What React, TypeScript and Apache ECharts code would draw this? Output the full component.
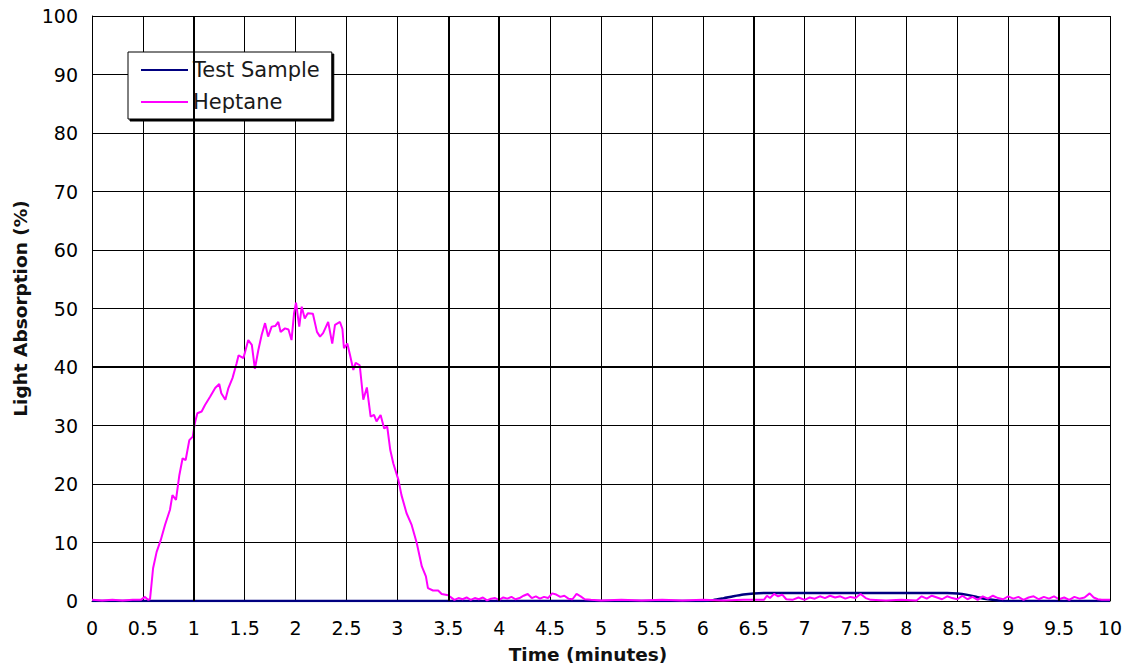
import React, { useEffect, useRef } from "react";
import * as echarts from "echarts";

const xTicks = ["0", "0.5", "1", "1.5", "2", "2.5", "3", "3.5", "4", "4.5", "5", "5.5", "6", "6.5", "7", "7.5", "8", "8.5", "9", "9.5", "10"];

const testSample: [number, number][] = [
  [0, 0], [1, 0], [2, 0], [3, 0], [4, 0], [5, 0], [6.0, 0], [6.1, 0.15], [6.2, 0.45], [6.3, 0.8],
  [6.4, 1.1], [6.5, 1.28], [6.6, 1.35], [7.5, 1.35], [8.4, 1.35], [8.5, 1.3], [8.6, 1.05],
  [8.7, 0.65], [8.8, 0.3], [8.9, 0.1], [9.0, 0], [10, 0],
];

const heptane: [number, number][] = [
  [0, 0.2], [0.1, 0.1], [0.2, 0.2], [0.3, 0.1], [0.4, 0.2], [0.48, 0.2], [0.52, 0.7], [0.55, 0.2], [0.57, 0.3],
  [0.6, 5.6], [0.635, 8.4], [0.675, 10.4], [0.717, 13], [0.766, 15.6], [0.79, 18.1], [0.825, 17.3],
  [0.858, 21.5], [0.89, 24.4], [0.92, 24.1], [0.956, 27.5], [0.99, 28.1], [1.01, 30.4], [1.035, 32.1],
  [1.077, 32.4], [1.11, 33.5], [1.16, 34.9], [1.21, 36.4], [1.25, 37.1], [1.27, 35.5], [1.31, 34.4],
  [1.34, 36.4], [1.38, 38.1], [1.42, 40.6], [1.44, 42.0], [1.487, 41.5], [1.535, 44.6], [1.57, 43.8],
  [1.6, 39.7], [1.634, 42.9], [1.667, 45.5], [1.7, 47.5], [1.73, 45.2], [1.765, 46.9], [1.8, 47.0],
  [1.83, 47.7], [1.853, 46], [1.896, 46.6], [1.93, 46.4], [1.96, 44.6], [1.985, 49.2], [2.004, 51.0],
  [2.036, 46.9], [2.06, 50.3], [2.09, 48.3], [2.12, 49.2], [2.17, 49.1], [2.21, 46], [2.24, 45.2],
  [2.27, 45.8], [2.32, 47.7], [2.36, 44], [2.387, 47.2], [2.436, 47.7], [2.46, 46.5], [2.475, 43.2],
  [2.508, 44], [2.535, 42], [2.567, 39.5], [2.59, 40.7], [2.63, 40.3], [2.665, 34.4], [2.7, 36.5],
  [2.737, 31.5], [2.77, 31.8], [2.795, 30.7], [2.835, 31.8], [2.87, 29.5], [2.9, 29.8], [2.93, 25.8],
  [2.96, 23.5], [3.01, 20.7], [3.04, 18.1], [3.09, 15], [3.14, 13], [3.19, 9.9], [3.24, 5.9],
  [3.28, 4.2], [3.3, 2.2], [3.35, 1.8], [3.4, 1.8], [3.435, 1.2], [3.5, 1.0],
  [3.52, 0.7], [3.56, 0.2], [3.6, 0.5], [3.64, 0.3], [3.68, 0.6], [3.72, 0.2], [3.76, 0.5], [3.8, 0.3],
  [3.84, 0.6], [3.88, 0.1], [3.92, 0.4], [3.96, 0.5], [4.0, 0.2], [4.04, 0.6], [4.08, 0.4], [4.12, 0.7],
  [4.16, 0.3], [4.2, 0.5], [4.24, 0.9], [4.28, 1.2], [4.32, 0.5], [4.36, 0.8], [4.4, 0.4], [4.44, 0.7],
  [4.48, 0.5], [4.52, 1.3], [4.56, 1.1], [4.6, 0.7], [4.64, 0.9], [4.68, 0.4], [4.72, 0.3], [4.76, 1.2],
  [4.8, 0.8], [4.84, 0.3], [4.9, 0.2], [5.0, 0.1], [5.2, 0.2], [5.4, 0.1], [5.6, 0.2], [5.8, 0.1],
  [6.0, 0.2], [6.2, 0.1], [6.4, 0.2], [6.6, 0.2], [6.63, 0.9], [6.66, 0.5], [6.7, 1.2], [6.74, 0.8],
  [6.78, 1.1], [6.82, 0.3], [6.88, 0.2], [6.94, 0.6], [7.0, 0.2], [7.05, 0.6], [7.1, 0.4], [7.15, 0.8],
  [7.2, 0.5], [7.25, 0.9], [7.3, 0.6], [7.35, 0.8], [7.4, 0.4], [7.45, 0.7], [7.5, 0.5], [7.55, 1.2],
  [7.6, 0.5], [7.65, 0.2], [7.8, 0.1], [7.95, 0.2], [8.1, 0.1], [8.15, 0.8], [8.2, 0.4], [8.25, 0.9],
  [8.3, 0.6], [8.35, 0.3], [8.4, 0.8], [8.45, 0.5], [8.5, 0.3], [8.55, 0.9], [8.6, 0.3], [8.65, 0.7],
  [8.7, 0.2], [8.75, 0.8], [8.8, 0.4], [8.85, 0.9], [8.9, 0.5], [8.95, 0.3], [9.0, 0.8], [9.05, 0.4],
  [9.1, 0.7], [9.15, 0.2], [9.2, 0.6], [9.25, 0.8], [9.3, 0.3], [9.35, 0.7], [9.4, 0.4], [9.45, 0.8],
  [9.5, 0.3], [9.55, 0.6], [9.6, 0.2], [9.65, 0.7], [9.7, 0.4], [9.75, 0.6], [9.8, 1.3], [9.84, 0.6],
  [9.88, 0.3], [9.92, 0.2], [10, 0.2],
];

const boldGridX = [1, 3.5, 4, 6.5, 9.5];
const boldGridY = [40];

const FONT = "DejaVu Sans, sans-serif";

export default function App() {
  const ref = useRef<HTMLDivElement>(null);
  useEffect(() => {
    document.body.style.margin = "0";
    const chart = echarts.init(ref.current!, null, { renderer: "svg" });
    chart.setOption({
      animation: false,
      backgroundColor: "#fff",
      grid: { left: 92, right: 19, top: 16, bottom: 68, containLabel: false, outerBoundsMode: "none" },
      legend: {
        orient: "vertical",
        left: 128,
        top: 52,
        padding: [7, 12, 6, 13],
        itemGap: 10,
        itemWidth: 47,
        itemHeight: 2,
        icon: "rect",
        backgroundColor: "#fff",
        borderColor: "#000",
        borderWidth: 1,
        borderRadius: 0,
        shadowColor: "#000",
        shadowOffsetX: 2,
        shadowOffsetY: 2,
        shadowBlur: 0,
        textStyle: { fontFamily: FONT, fontSize: 21, color: "#1a1a1a", lineHeight: 22 },
        data: ["Test Sample", "Heptane"],
      },
      xAxis: {
        type: "value",
        min: 0,
        max: 10,
        interval: 0.5,
        name: "Time (minutes)",
        nameLocation: "middle",
        nameGap: 44,
        nameTextStyle: { fontFamily: FONT, fontSize: 18.5, fontWeight: "bold", color: "#111", padding: [0, 26, 0, 0] },
        axisLine: { show: true, lineStyle: { color: "#000", width: 1 } },
        axisTick: { show: false },
        axisLabel: {
          fontFamily: FONT,
          fontSize: 19,
          color: "#000",
          margin: 17,
          formatter: (v: number) => xTicks[Math.round(v * 2)] ?? "",
        },
        splitLine: { show: true, lineStyle: { color: "#000", width: 1 } },
      },
      yAxis: {
        type: "value",
        min: 0,
        max: 100,
        interval: 10,
        name: "Light Absorption (%)",
        nameLocation: "middle",
        nameGap: 62,
        nameRotate: 90,
        nameTextStyle: { fontFamily: FONT, fontSize: 18.5, fontWeight: "bold", color: "#111" },
        axisLine: { show: true, lineStyle: { color: "#000", width: 1 } },
        axisTick: { show: false },
        axisLabel: { fontFamily: FONT, fontSize: 19, color: "#000", margin: 14 },
        splitLine: { show: true, lineStyle: { color: "#000", width: 1 } },
      },
      series: [
        {
          name: "gridBold",
          type: "line",
          data: [],
          z: 1,
          silent: true,
          markLine: {
            silent: true,
            symbol: "none",
            label: { show: false },
            lineStyle: { color: "#000", width: 2, type: "solid" },
            data: [
              ...boldGridX.map((v) => ({ xAxis: v })),
              ...boldGridY.map((v) => ({ yAxis: v })),
            ],
          },
        },
        {
          name: "Test Sample",
          type: "line",
          data: testSample,
          smooth: 0.3,
          showSymbol: false,
          color: "#000080",
          lineStyle: { color: "#000080", width: 2.5 },
          z: 3,
        },
        {
          name: "Heptane",
          type: "line",
          data: heptane,
          showSymbol: false,
          color: "#FF00FF",
          lineStyle: { color: "#FF00FF", width: 2 },
          z: 4,
        },
      ],
    });
    return () => chart.dispose();
  }, []);
  return <div ref={ref} style={{ width: 1129, height: 669 }} />;
}
